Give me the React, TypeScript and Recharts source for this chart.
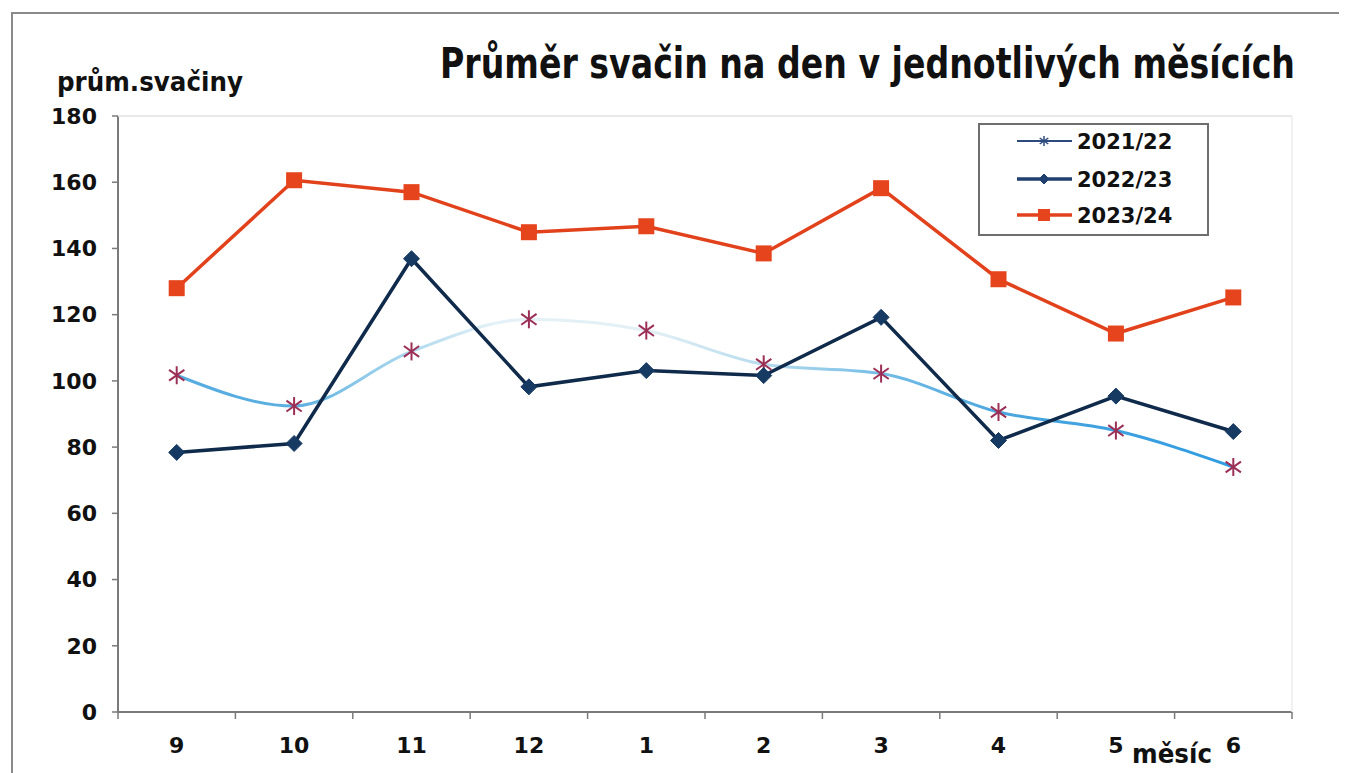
import React from 'react';
import { LineChart, Line, XAxis, YAxis, Legend } from 'recharts';

const months = ['9', '10', '11', '12', '1', '2', '3', '4', '5', '6'];
const s2122 = [101.7, 92.4, 108.9, 118.6, 115.2, 105, 102.2, 90.6, 85, 74];
const s2223 = [78.4, 81.1, 136.9, 98.2, 103.1, 101.6, 119.2, 82, 95.4, 84.7];
const s2324 = [128, 160.6, 157, 144.9, 146.7, 138.5, 158.2, 130.7, 114.3, 125.2];
const yTicks = [0, 20, 40, 60, 80, 100, 120, 140, 160, 180];
const seriesNames = ['2021/22', '2022/23', '2023/24'];

const data = months.map((m, i) => ({ m, a: s2122[i], b: s2223[i], c: s2324[i] }));

const W = 1339;
const H = 765;
const MARGIN = { top: 108, right: 55, bottom: 21, left: 0 };
const Y_W = 110;
const X_H = 40;
const PLOT_W = W - MARGIN.right - MARGIN.left - Y_W;
const BAND = PLOT_W / months.length;
const FONT = "'DejaVu Sans', Verdana, sans-serif";
const AXIS = '#7a7a7a';

const C_A_MARK = '#9c2f55';
const C_B = '#0f2a4a';
const C_B_MARK = '#173a63';
const C_C = '#e2421b';
const C_C_MARK = '#e5441c';

const Asterisk = ({ cx, cy, color, r = 8, sw = 2 }: any) => {
  const dx = r * 0.85;
  const dy = r * 0.6;
  return (
    <g stroke={color} strokeWidth={sw} fill="none">
      <line x1={cx} y1={cy - r} x2={cx} y2={cy + r} />
      <line x1={cx - dx} y1={cy - dy} x2={cx + dx} y2={cy + dy} />
      <line x1={cx - dx} y1={cy + dy} x2={cx + dx} y2={cy - dy} />
    </g>
  );
};

const Diamond = ({ cx, cy, color, r = 8 }: any) => (
  <path d={`M${cx},${cy - r}L${cx + r},${cy}L${cx},${cy + r}L${cx - r},${cy}Z`} fill={color} stroke={color} strokeWidth={1} />
);

const Square = ({ cx, cy, color, r = 8 }: any) => (
  <rect x={cx - r} y={cy - r} width={2 * r} height={2 * r} fill={color} />
);

const dotA = (p: any) => <Asterisk key={`a${p.index}`} cx={p.cx} cy={p.cy} color={C_A_MARK} r={9} sw={2} />;
const dotB = (p: any) => <Diamond key={`b${p.index}`} cx={p.cx} cy={p.cy} color={C_B_MARK} r={8} />;
const dotC = (p: any) => <Square key={`c${p.index}`} cx={p.cx} cy={p.cy} color={C_C_MARK} r={8} />;

const XTick = (props: any) => {
  const { x, y, payload, index, visibleTicksCount } = props;
  const n = visibleTicksCount || months.length;
  const bw = BAND;
  return (
    <g>
      <line x1={x - bw / 2} y1={y} x2={x - bw / 2} y2={y + 7} stroke={AXIS} strokeWidth={1.5} />
      {index === n - 1 && (
        <line x1={x + bw / 2} y1={y} x2={x + bw / 2} y2={y + 7} stroke={AXIS} strokeWidth={1.5} />
      )}
      <text x={x} y={y + 41} textAnchor="middle" fontFamily={FONT} fontWeight="bold" fontSize={22} fill="#111">
        {payload.value}
      </text>
    </g>
  );
};

const LegendBox = () => {
  const rows = [
    { name: seriesNames[0], y: 18, kind: 'a' },
    { name: seriesNames[1], y: 56, kind: 'b' },
    { name: seriesNames[2], y: 92, kind: 'c' },
  ];
  return (
    <svg width={232} height={114} style={{ display: 'block' }}>
      <rect x={1} y={1} width={229} height={111} fill="#fff" stroke="#6e6e6e" strokeWidth={2} />
      {rows.map((r) => (
        <g key={r.name}>
          {r.kind === 'a' && (
            <g>
              <line x1={39} y1={r.y} x2={94} y2={r.y} stroke="#2e4b7e" strokeWidth={2} />
              <Asterisk cx={66} cy={r.y} color="#2e4b7e" r={5} sw={1.5} />
            </g>
          )}
          {r.kind === 'b' && (
            <g>
              <line x1={39} y1={r.y} x2={94} y2={r.y} stroke="#1f3f6e" strokeWidth={3.5} />
              <Diamond cx={66} cy={r.y} color="#1f3f6e" r={5} />
            </g>
          )}
          {r.kind === 'c' && (
            <g>
              <line x1={39} y1={r.y} x2={94} y2={r.y} stroke={C_C} strokeWidth={3.5} />
              <Square cx={66} cy={r.y} color={C_C_MARK} r={6} />
            </g>
          )}
          <text x={99} y={r.y + 8} fontFamily={FONT} fontWeight="bold" fontSize={21} fill="#111">
            {r.name}
          </text>
        </g>
      ))}
    </svg>
  );
};

export default function App() {
  return (
    <div style={{ position: 'relative', width: W, height: H, background: '#fff' }}>
      <LineChart width={W} height={H} data={data} margin={MARGIN}>
        <defs>
          <linearGradient id="g2122" x1="0" y1="0" x2="1" y2="0">
            <stop offset="0" stopColor="#56ace0" />
            <stop offset="0.111" stopColor="#5aafe0" />
            <stop offset="0.2" stopColor="#9fd2ec" />
            <stop offset="0.3" stopColor="#e4f1f6" />
            <stop offset="0.45" stopColor="#e2eff5" />
            <stop offset="0.556" stopColor="#b6dbee" />
            <stop offset="0.667" stopColor="#74bde6" />
            <stop offset="0.778" stopColor="#4aa6de" />
            <stop offset="1" stopColor="#2f9ce2" />
          </linearGradient>
        </defs>
        <XAxis
          dataKey="m"
          height={X_H}
          padding={{ left: BAND / 2, right: BAND / 2 }}
          axisLine={{ stroke: AXIS, strokeWidth: 2 }}
          tickLine={false}
          tickSize={0}
          tickMargin={0}
          interval={0}
          tick={<XTick />}
        />
        <YAxis
          width={Y_W}
          domain={[0, 180]}
          ticks={yTicks}
          interval={0}
          axisLine={{ stroke: AXIS, strokeWidth: 2 }}
          tickLine={{ stroke: AXIS, strokeWidth: 1.5 }}
          tickSize={6}
          tickMargin={15}
          tick={{ fontFamily: FONT, fontWeight: 'bold', fontSize: 22, fill: '#111' }}
        />
        <Legend
          layout="horizontal"
          verticalAlign="middle"
          align="center"
          width={232}
          wrapperStyle={{ left: 970, top: 115, width: 232, height: 114 }}
          content={() => <LegendBox />}
        />
        <Line
          type="monotone"
          dataKey="a"
          name={seriesNames[0]}
          stroke="url(#g2122)"
          strokeWidth={3}
          dot={dotA}
          activeDot={false}
          isAnimationActive={false}
        />
        <Line
          type="linear"
          dataKey="b"
          name={seriesNames[1]}
          stroke={C_B}
          strokeWidth={3.5}
          dot={dotB}
          activeDot={false}
          isAnimationActive={false}
        />
        <Line
          type="linear"
          dataKey="c"
          name={seriesNames[2]}
          stroke={C_C}
          strokeWidth={3.5}
          dot={dotC}
          activeDot={false}
          isAnimationActive={false}
        />
      </LineChart>
      <svg width={W} height={H} style={{ position: 'absolute', left: 0, top: 0, pointerEvents: 'none' }}>
        <rect x={4} y={5} width={1400} height={900} fill="none" stroke="#8a8a8a" strokeWidth={2} />
        <line x1={110} y1={108} x2={1284} y2={108} stroke="#e2e2e2" strokeWidth={1.5} />
        <line x1={1284} y1={108} x2={1284} y2={704} stroke="#ececec" strokeWidth={1.5} />
        <text x={432} y={70} fontFamily={FONT} fontWeight="bold" fontSize={42} fill="#111" textLength={855} lengthAdjust="spacingAndGlyphs">
          Průměr svačin na den v jednotlivých měsících
        </text>
        <text x={49} y={83} fontFamily={FONT} fontWeight="bold" fontSize={26} fill="#111" textLength={186} lengthAdjust="spacingAndGlyphs">
          prům.svačiny
        </text>
        <text x={1124} y={755} fontFamily={FONT} fontWeight="bold" fontSize={27} fill="#111" textLength={80} lengthAdjust="spacingAndGlyphs">
          měsíc
        </text>
      </svg>
    </div>
  );
}
